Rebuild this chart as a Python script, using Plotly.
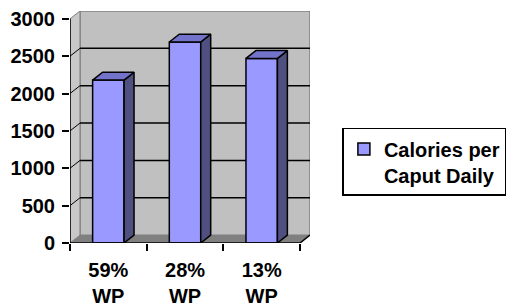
import plotly.graph_objects as go

# ---- data ----
categories = ["59%<br>WP", "28%<br>WP", "13%<br>WP"]
calories = [2180, 2690, 2470]
series_name = "Calories per<br>Caput Daily"
y_ticks = [0, 500, 1000, 1500, 2000, 2500, 3000]

# ---- pseudo-3D geometry (in axis units) ----
DX = 0.13      # depth offset along x
DY = 105       # depth offset along y
BW = 0.41      # bar width
YTOP = 3000
x_pos = list(range(len(categories)))
x_lo, x_hi = -0.5, len(categories) - 0.5

FRONT = "#9999FF"
SIDE = "#4F4F80"
TOPC = "#7373CC"
WALL = "#C0C0C0"
FLOOR = "#808080"
FONT = "Liberation Sans, Arial, sans-serif"

fig = go.Figure()

# front faces of bars
fig.add_trace(go.Bar(
    x=x_pos, y=calories, width=BW, name=series_name,
    marker=dict(color=FRONT, line=dict(color="black", width=1.5)),
    hoverinfo="skip",
))

# side and top faces of bars
for xc, v in zip(x_pos, calories):
    xl, xr = xc - BW / 2, xc + BW / 2
    fig.add_trace(go.Scatter(
        x=[xr, xr + DX, xr + DX, xr, xr], y=[0, DY, v + DY, v, 0],
        fill="toself", fillcolor=SIDE, mode="lines",
        line=dict(color="black", width=1.5), showlegend=False, hoverinfo="skip"))
    fig.add_trace(go.Scatter(
        x=[xl, xr, xr + DX, xl + DX, xl], y=[v, v, v + DY, v + DY, v],
        fill="toself", fillcolor=TOPC, mode="lines",
        line=dict(color="black", width=1.5), showlegend=False, hoverinfo="skip"))

shapes = []
# back wall
shapes.append(dict(type="rect", xref="x", yref="y", layer="below",
                   x0=x_lo + DX, x1=x_hi + DX, y0=DY, y1=YTOP + DY,
                   fillcolor=WALL, line=dict(color="#808080", width=1.5)))
# left wall
shapes.append(dict(type="path", xref="x", yref="y", layer="below",
                   path=f"M {x_lo},0 L {x_lo + DX},{DY} L {x_lo + DX},{YTOP + DY} L {x_lo},{YTOP} Z",
                   fillcolor="#C8C8C8", line=dict(color="#808080", width=1)))
# floor
shapes.append(dict(type="path", xref="x", yref="y", layer="below",
                   path=f"M {x_lo},0 L {x_hi},0 L {x_hi + DX},{DY} L {x_lo + DX},{DY} Z",
                   fillcolor=FLOOR, line=dict(width=0)))
# gridlines on back wall and left wall
for t in y_ticks[1:-1]:
    shapes.append(dict(type="line", xref="x", yref="y", layer="below",
                       x0=x_lo + DX, x1=x_hi + DX, y0=t + DY, y1=t + DY,
                       line=dict(color="black", width=1.5)))
    shapes.append(dict(type="line", xref="x", yref="y", layer="below",
                       x0=x_lo, x1=x_lo + DX, y0=t, y1=t + DY,
                       line=dict(color="black", width=1)))
# axis lines
shapes.append(dict(type="line", xref="x", yref="y", layer="above",
                   x0=x_lo, x1=x_lo, y0=0, y1=YTOP,
                   line=dict(color="black", width=1.5)))
shapes.append(dict(type="path", xref="x", yref="y", layer="above",
                   path=f"M {x_lo},0 L {x_hi},0 L {x_hi + DX},{DY}",
                   line=dict(color="black", width=1.5)))

fig.update_layout(
    width=512, height=307,
    margin=dict(l=70, r=202, t=11, b=64, autoexpand=False),
    paper_bgcolor="white", plot_bgcolor="white",
    font=dict(family=FONT, size=20, color="black"),
    shapes=shapes,
    showlegend=True,
    legend=dict(
        x=1.135, y=0.496, xanchor="left", yanchor="top",
        bordercolor="black", borderwidth=1.5, bgcolor="white",
        font=dict(family=FONT, size=20, color="black", weight="bold"),
        valign="top", itemwidth=30, entrywidth=150,
    ),
    xaxis=dict(
        range=[x_lo, x_hi + DX], tickvals=x_pos, ticktext=categories,
        ticks="", showline=False, showgrid=False, zeroline=False,
        tickfont=dict(family=FONT, size=20, weight="bold"),
        ticklabelstandoff=13, fixedrange=True, automargin=False,
    ),
    xaxis2=dict(
        range=[x_lo, x_hi + DX], overlaying="x", side="bottom",
        tickvals=[x_lo + i for i in range(len(categories) + 1)],
        ticks="outside", ticklen=7, tickwidth=1.5, tickcolor="black",
        showticklabels=False, showline=False, showgrid=False, zeroline=False,
        automargin=False,
    ),
    yaxis=dict(
        range=[0, YTOP + DY], tickvals=y_ticks,
        ticks="outside", ticklen=7, tickwidth=1.5, tickcolor="black",
        showline=False, showgrid=False, zeroline=False,
        tickfont=dict(family=FONT, size=20, weight="bold"),
        ticklabelstandoff=3, fixedrange=True, automargin=False,
    ),
)

# invisible trace so xaxis2 is rendered
fig.add_trace(go.Scatter(x=[x_lo], y=[0], xaxis="x2", mode="markers",
                         marker=dict(opacity=0), showlegend=False, hoverinfo="skip"))

fig.write_html("out.html", config={"displayModeBar": False},
               post_script="document.body.style.margin='0';")
